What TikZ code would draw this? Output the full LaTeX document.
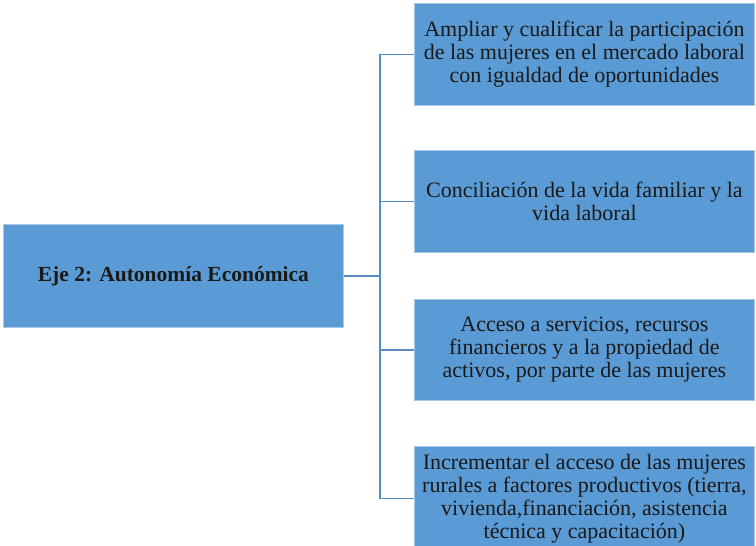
\documentclass[tikz,border=0pt]{standalone}
\usepackage{fontspec}
\setmainfont{Liberation Serif}
\definecolor{boxfill}{HTML}{5B9BD5}
\definecolor{boxedge}{HTML}{A9C8E8}
\definecolor{linecol}{HTML}{5A8AC6}
\begin{document}
\begin{tikzpicture}[x=1pt,y=-1pt,
  box/.style={draw=boxedge, line width=0.8pt, fill=boxfill, text=black!90, align=center, inner sep=0pt, anchor=north west,
    font=\fontsize{22}{23}\selectfont},
  conn/.style={draw=linecol, line width=1.6pt}]
\useasboundingbox (0,0) rectangle (756,546);
\node[box, minimum width=340, minimum height=103, font=\fontsize{21.5}{23}\selectfont\bfseries] (main) at (3,224) {Eje 2: Autonomía\ Económica};
\node[box, minimum width=340, minimum height=102] (b1) at (414,3) {Ampliar y cualificar\ la participación\\de las mujeres en el mercado laboral\\con igualdad de oportunidades};
\node[box, minimum width=340, minimum height=102] (b2) at (414,150) {Conciliación de la vida familiar\ y la\\vida laboral};
\node[box, minimum width=340, minimum height=101] (b3) at (414,299) {Acceso a servicios,\ recursos\\financieros y a la propiedad de\\activos, por parte de las mujeres};
\node[box, minimum width=340, minimum height=104] (b4) at (414,446) {Incrementar el acceso de las mujeres\\rurales a factores productivos (tierra,\\vivienda,financiación,\ asistencia\\técnica y capacitación)};
\draw[conn] (main.east) -- ++(36,0) coordinate (j);
\draw[conn] (b1.west) -| (j);
\draw[conn] (b2.west) -| (j);
\draw[conn] (b3.west) -| (j);
\draw[conn] (b4.west) -| (j);
\end{tikzpicture}
\end{document}
